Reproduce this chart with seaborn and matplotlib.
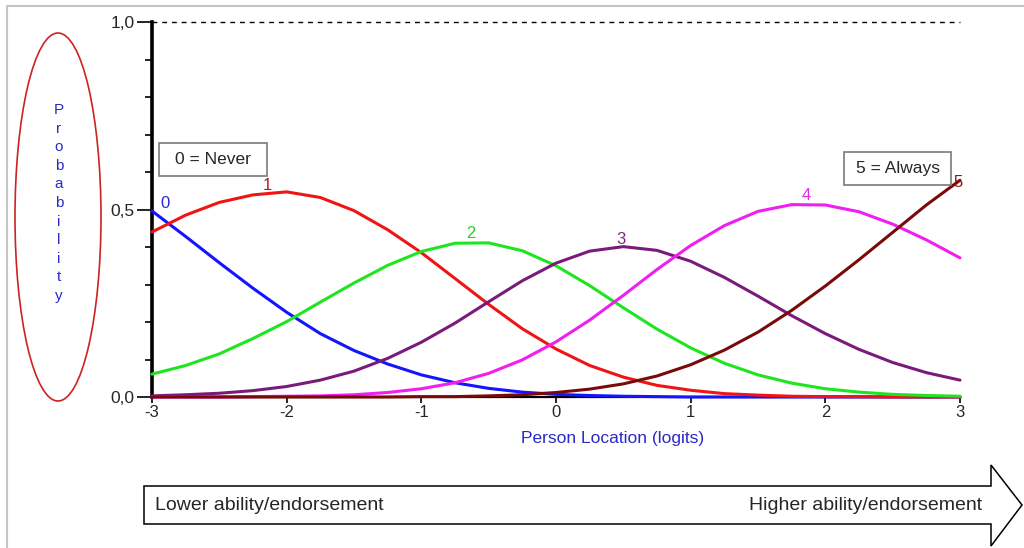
import matplotlib
matplotlib.use("Agg")
import matplotlib.pyplot as plt
from matplotlib.patches import Ellipse, Rectangle, Polygon
from matplotlib.lines import Line2D
from matplotlib.ticker import MultipleLocator, FixedLocator
import seaborn as sns
import pandas as pd

# Person location grid (logits)
theta = [-3.0, -2.75, -2.5, -2.25, -2.0, -1.75, -1.5, -1.25, -1.0, -0.75, -0.5, -0.25,
         0.0, 0.25, 0.5, 0.75, 1.0, 1.25, 1.5, 1.75, 2.0, 2.25, 2.5, 2.75, 3.0]

# Category probability curves
cat0 = [0.496, 0.428, 0.358, 0.290, 0.226, 0.169, 0.124, 0.088, 0.059, 0.038, 0.023, 0.013,
        0.007, 0.004, 0.002, 0.001, 0.000, 0.000, 0.000, 0.000, 0.000, 0.000, 0.000, 0.000, 0.000]
cat1 = [0.440, 0.485, 0.519, 0.539, 0.547, 0.532, 0.497, 0.446, 0.385, 0.316, 0.247, 0.182,
        0.128, 0.084, 0.053, 0.031, 0.018, 0.009, 0.005, 0.002, 0.001, 0.001, 0.000, 0.000, 0.000]
cat2 = [0.061, 0.084, 0.115, 0.156, 0.201, 0.253, 0.304, 0.351, 0.388, 0.410, 0.411, 0.390,
        0.350, 0.297, 0.238, 0.181, 0.131, 0.090, 0.059, 0.037, 0.022, 0.013, 0.007, 0.004, 0.002]
cat3 = [0.003, 0.006, 0.010, 0.017, 0.028, 0.045, 0.069, 0.103, 0.146, 0.197, 0.254, 0.310,
        0.357, 0.389, 0.401, 0.391, 0.362, 0.319, 0.269, 0.217, 0.169, 0.127, 0.092, 0.065, 0.045]
cat4 = [0.000, 0.000, 0.000, 0.001, 0.002, 0.003, 0.006, 0.012, 0.022, 0.038, 0.063, 0.099,
        0.147, 0.205, 0.271, 0.340, 0.404, 0.457, 0.495, 0.513, 0.512, 0.494, 0.461, 0.419, 0.371]
cat5 = [0.000, 0.000, 0.000, 0.000, 0.000, 0.000, 0.000, 0.000, 0.001, 0.001, 0.003, 0.006,
        0.012, 0.021, 0.035, 0.056, 0.086, 0.125, 0.173, 0.231, 0.296, 0.366, 0.439, 0.512, 0.578]

categories = ["0", "1", "2", "3", "4", "5"]
line_colors = ["#1414ff", "#f01414", "#1ee61e", "#7a1a7a", "#f01ef0", "#7a0a0a"]
label_colors = ["#2828c8", "#b01e1e", "#2ec82e", "#7a2a7a", "#e02ee0", "#8a1a1a"]
# curve label anchor points (logit, probability)
label_x = [-2.90, -2.14, -0.63, 0.48, 1.86, 2.985]
label_y = [0.517, 0.563, 0.435, 0.419, 0.536, 0.573]

yticks = [0.0, 0.5, 1.0]
ytick_labels = ["0,0", "0,5", "1,0"]
xticks = [-3, -2, -1, 0, 1, 2, 3]
xtick_labels = ["-3", "-2", "-1", "0", "1", "2", "3"]

series = [cat0, cat1, cat2, cat3, cat4, cat5]
df = pd.concat(
    [pd.DataFrame({"theta": theta, "prob": s, "category": c}) for c, s in zip(categories, series)],
    ignore_index=True,
)

sns.set_style("white")
plt.rcParams["font.family"] = ["Liberation Sans", "DejaVu Sans"]

W, H = 1024, 548
fig = plt.figure(figsize=(W / 100, H / 100), dpi=100)
fig.patch.set_facecolor("white")


def fx(px):
    return px / W


def fy(py):
    return 1 - py / H


ax = fig.add_axes([fx(152), fy(397), fx(960) - fx(152), fy(22) - fy(397)])
sns.lineplot(data=df, x="theta", y="prob", hue="category", palette=line_colors,
             hue_order=categories, linewidth=2.2, legend=False, ax=ax, zorder=3)
for ln in ax.lines:
    ln.set_clip_on(False)
    ln.set_solid_joinstyle("round")

ax.set_xlim(-3, 3)
ax.set_ylim(0, 1)
ax.axhline(1.0, color="black", lw=1.0, ls=(0, (3.5, 3.5)), clip_on=False, zorder=2)

for sp in ["top", "right"]:
    ax.spines[sp].set_visible(False)
ax.spines["left"].set_linewidth(2.6)
ax.spines["left"].set_color("black")
ax.spines["bottom"].set_linewidth(1.6)
ax.spines["bottom"].set_color("black")

ax.yaxis.set_major_locator(FixedLocator(yticks))
ax.set_yticklabels(ytick_labels)
ax.yaxis.set_minor_locator(MultipleLocator(0.1))
ax.set_xticks(xticks)
ax.set_xticklabels(xtick_labels)
ax.tick_params(axis="y", which="major", direction="out", length=11, width=1.2,
               color="black", labelsize=12.5, pad=1.5, left=True)
ax.tick_params(axis="y", which="minor", direction="out", length=5, width=1.2,
               color="black", left=True)
ax.tick_params(axis="x", which="major", direction="out", length=4.5, width=1.2,
               color="black", labelsize=12, pad=1.5, bottom=True)
ax.set_xlabel("")
ax.set_ylabel("")
ax.grid(False)

for c, lx, ly, col in zip(categories, label_x, label_y, label_colors):
    ax.text(lx, ly, c, color=col, fontsize=12, ha="center", va="center", zorder=4)

# axis titles
fig.text(fx(613), fy(438), "Person Location (logits)", color="#2a2ac8",
         fontsize=12.5, ha="center", va="center")
fig.text(fx(59), fy(203), "\n".join("Probability"), color="#2a2ac8",
         fontsize=11, ha="center", va="center", linespacing=1.42)
fig.add_artist(Ellipse((fx(58), fy(217)), width=86 / W, height=368 / H,
                       transform=fig.transFigure, fill=False, edgecolor="#cc2222", lw=1.2))

# anchor category boxes
fig.add_artist(Rectangle((fx(159), fy(176)), 108 / W, 33 / H, transform=fig.transFigure,
                         facecolor="white", edgecolor="#7a7a7a", lw=1.2, zorder=5))
fig.text(fx(213), fy(159.5), "0 = Never", fontsize=12.5, ha="center", va="center", zorder=6)
fig.add_artist(Rectangle((fx(844), fy(185)), 107 / W, 33 / H, transform=fig.transFigure,
                         facecolor="white", edgecolor="#7a7a7a", lw=1.2, zorder=5))
fig.text(fx(897.5), fy(168.5), "5 = Always", fontsize=12.5, ha="center", va="center", zorder=6)

# ability continuum arrow
arrow_px = [(144, 486), (991, 486), (991, 465), (1022, 505), (991, 546), (991, 524), (144, 524)]
fig.add_artist(Polygon([(fx(a), fy(b)) for a, b in arrow_px], closed=True,
                       transform=fig.transFigure, facecolor="white", edgecolor="black", lw=1.1))
fig.text(fx(155), fy(505), "Lower ability/endorsement", fontsize=14, ha="left", va="center")
fig.text(fx(982), fy(505), "Higher ability/endorsement", fontsize=14, ha="right", va="center")

# outer frame edges
fig.add_artist(Line2D([fx(7), fx(7), fx(1024)], [fy(548), fy(6), fy(6)],
                      transform=fig.transFigure, color="#c4c4c4", lw=1.5))

fig.savefig("out.png", dpi=100, facecolor="white")
